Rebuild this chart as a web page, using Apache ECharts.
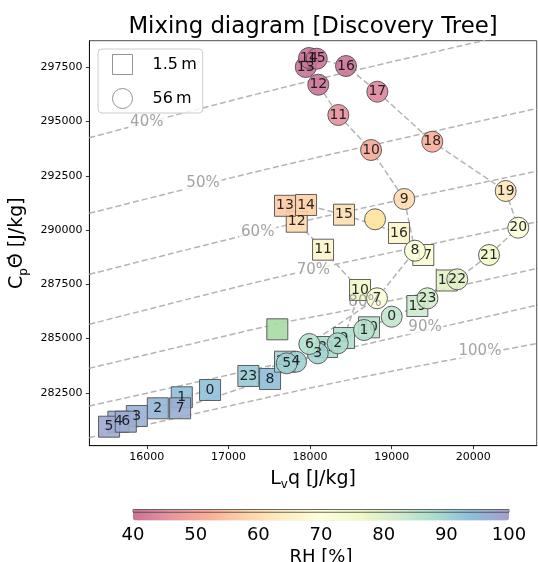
<!DOCTYPE html>
<html><head><meta charset="utf-8">
<script src="https://cdn.jsdelivr.net/npm/echarts@6/dist/echarts.min.js"></script>
<style>html,body{margin:0;padding:0;background:#fff}#c{width:538px;height:562px}</style>
</head><body><div id="c"></div>
<script>
// ---- data ----
const hours = ['0','1','2','3','4','5','6','7','8','9','10','11','12','13','14','15','16','17','18','19','20','21','22','23'];
// 1.5 m (squares): Lv*q [J/kg], Cp*Theta [J/kg], RH [%]
const sqX = [16775,16429,16135,15878,15652,15538,15743,16408,17510,18416,18612,18159,17837,17693,17951,18416,19089,19387,19674,19314,18722,18208,17693,17244];
const sqY = [282630,282294,281787,281432,281169,280939,281169,281787,283137,285026,287238,289095,290385,291118,291155,290708,289864,288851,287676,286500,285519,284611,283934,283275];
const sqRH = [93.5,93.8,95.5,96.5,97,97.9,97.5,97.1,94.2,87.1,76.4,66.4,59.8,56.7,57.4,60.3,66.4,71.9,78.7,83,85.8,88.3,89.8,91.7];
// 56 m (circles)
const ciX = [19000,18661,18339,18094,17828,17714,17991,18820,19285,19154,18747,18346,18101,17947,17987,18082,18440,18824,19497,20396,20550,20192,19803,19438];
const ciY = [286008,285395,284782,284321,283934,283860,284750,286856,289049,291431,293689,295302,296698,297514,297929,297896,297560,296376,294072,291800,290109,288851,287731,286856];
const ciRH = [84.3,86,88,89.6,90.6,90.4,86.6,71,70.5,60,50.7,45.2,39,37,36,36,39,43.3,51.6,62.6,70.4,74.9,78.6,81.5];
// unlabeled markers: x, y, colour as seen
const sqExtraX = [17599], sqExtraY = [285427], sqExtraColor = '#a9dba3';
const ciExtraX = [18796], ciExtraY = [290496], ciExtraColor = '#fee49c';
// RH isolines
const isoLabels = ['40%','50%','60%','70%','80%','90%','100%'];
const isoLabelX = [16000,16689,17359,18040,18673,19408,20081];
const isoLabelY = [294993,292155,289924,288160,286699,285547,284441];
const isoX = [[15297,17632,20142],[15297,17632,20791],[15297,17632,19102,20791],[15297,17632,20791],[15297,17632,18367,20791],[15297,18367,20791],[15297,18367,20791]];
const isoY = [[294256,296532,298744],[290772,292952,295611],[287961,290155,291385,292722],[285657,287851,290385],[283630,285704,286238,288238],[281893,284473,286547],[280432,283013,284782]];
// ticks
const xTicks = [16000,17000,18000,19000,20000];
const yTicks = [282500,285000,287500,290000,292500,295000,297500];
// Spectral colormap as it appears (semi-transparent on white), RH 40 -> 100
const rhColors = ['#ca7397','#e8959e','#f9af98','#fed2a8','#feeebf','#ffffdc','#f1f9c6','#d1eccd','#abddce','#8ebedb','#a69ecc'];

const FONT = 'DejaVu Sans';
const zip = (a, b) => a.map((v, i) => [v, b[i]]);
const sqName = '1.5\u2009m', ciName = '56\u2009m';
const dash = {color:'#b4b4b4', width:1.5, type:[6,3]};

const series = [];
isoX.forEach((xs, i) => {
  series.push({type:'line', data: zip(xs, isoY[i]), symbol:'none', smooth:0.3, silent:true, z:1, lineStyle:dash});
});
const isoLabelData = isoLabelX.map((x,i)=>[x, isoLabelY[i], isoLabels[i]]);
// white gap in the isolines under each label
series.push({type:'scatter', silent:true, z:2, symbolSize:0, data: isoLabelData,
  label:{show:true, position:'inside', formatter:p=>p.value[2], fontFamily:FONT, fontSize:15, color:'rgba(0,0,0,0)', backgroundColor:'#fff', padding:[0,2]}});
series.push({type:'line', data: zip(sqX, sqY), symbol:'none', silent:true, z:3, lineStyle:dash});
series.push({type:'line', data: zip(ciX, ciY), symbol:'none', silent:true, z:3, lineStyle:dash});
const mkStyle = {borderColor:'#505050', borderWidth:1, opacity:0.9};
const lbl = {show:true, position:'inside', formatter:p=>p.value[3], fontFamily:FONT, fontSize:14, color:'#111'};
const scatterStart = series.length;
series.push({type:'scatter', name:sqName, symbol:'rect', symbolSize:21, z:4, itemStyle:mkStyle, label:lbl,
  data: sqX.map((x,i)=>[x, sqY[i], sqRH[i], hours[i]])});
series.push({type:'scatter', name:ciName, symbol:'circle', symbolSize:21, z:5, itemStyle:mkStyle, label:lbl,
  data: ciX.map((x,i)=>[x, ciY[i], ciRH[i], hours[i]])});
series.push({type:'scatter', name:sqName, symbol:'rect', symbolSize:21, z:4,
  itemStyle:Object.assign({}, mkStyle, {color:sqExtraColor}), data: zip(sqExtraX, sqExtraY)});
series.push({type:'scatter', name:ciName, symbol:'circle', symbolSize:21, z:5,
  itemStyle:Object.assign({}, mkStyle, {color:ciExtraColor}), data: zip(ciExtraX, ciExtraY)});
// visible isoline labels on top
series.push({type:'scatter', silent:true, z:6, symbolSize:0, data: isoLabelData,
  label:{show:true, position:'inside', formatter:p=>p.value[2], fontFamily:FONT, fontSize:15, color:'#8c8c8c'}});

const axisCommon = {
  axisLine:{show:true, onZero:false, lineStyle:{color:'#000', width:0.8}},
  splitLine:{show:false}
};
const nameRich = {n:{fontFamily:FONT, fontSize:19, color:'#000', lineHeight:24}, s:{fontFamily:FONT, fontSize:12, color:'#000', verticalAlign:'bottom', lineHeight:14}};

const option = {
  animation:false,
  backgroundColor:'#fff',
  title:{text:'Mixing diagram [Discovery Tree]', left:308, top:11, textAlign:'center',
    textStyle:{fontFamily:FONT, fontSize:22.8, fontWeight:'normal', color:'#000'}},
  legend:{left:98, top:49, orient:'vertical', itemWidth:20, itemHeight:20, itemGap:13,
    padding:[5,6,4,14], borderColor:'#cccccc', borderWidth:1, borderRadius:4, backgroundColor:'rgba(255,255,255,0.8)',
    textStyle:{fontFamily:FONT, fontSize:16, color:'#000', padding:[0,0,0,15]},
    data:[{name:sqName, icon:'rect', itemStyle:{color:'#fff', borderColor:'#888', borderWidth:1}},
          {name:ciName, icon:'circle', itemStyle:{color:'#fff', borderColor:'#888', borderWidth:1}}]},
  grid:[
    {left:89.3, right:1.3, top:40.7, bottom:116.3, show:true, borderColor:'#222', borderWidth:0.8},
    {left:133, width:376, top:509.5, height:11, show:true, borderColor:'#444', borderWidth:0.8, z:6}
  ],
  xAxis:[
    Object.assign({type:'value', gridIndex:0, min:15297, max:20776,
      name:'{n|L}{s|v}{n|q [J/kg]}', nameLocation:'middle', nameGap:21,
      nameTextStyle:{rich:nameRich},
      axisTick:{show:true, length:3.5, customValues:xTicks, lineStyle:{color:'#000', width:0.8}},
      axisLabel:{customValues:xTicks, formatter:v=>String(v), fontFamily:FONT, fontSize:11, color:'#000', margin:6}},
      axisCommon),
    {type:'value', gridIndex:1, min:40, max:100, interval:10,
      name:'RH [%]', nameLocation:'middle', nameGap:36,
      nameTextStyle:{fontFamily:FONT, fontSize:18, color:'#000'},
      axisLine:{show:false}, splitLine:{show:false},
      axisTick:{show:false},
      axisLabel:{fontFamily:FONT, fontSize:18, color:'#000', margin:14}}
  ],
  yAxis:[
    Object.assign({type:'value', gridIndex:0, min:280063, max:298726,
      name:'{n|C}{s|p}{n|\u0398\u0307 [J/kg]}', nameLocation:'middle', nameGap:51,
      nameTextStyle:{rich:nameRich},
      axisTick:{show:true, length:3.5, customValues:yTicks, lineStyle:{color:'#000', width:0.8}},
      axisLabel:{customValues:yTicks, formatter:v=>String(v), fontFamily:FONT, fontSize:11, color:'#000', margin:7}},
      axisCommon),
    {type:'value', gridIndex:1, min:0, max:1, show:false}
  ],
  visualMap:{type:'continuous', min:40, max:100, orient:'horizontal', left:133, top:509.5,
    itemWidth:11, itemHeight:376, padding:0, calculable:false, text:null, showLabel:false,
    seriesIndex:[scatterStart, scatterStart+1], dimension:2,
    inRange:{color:rhColors}},
  series: series
};
const chart = echarts.init(document.getElementById('c'));
chart.setOption(option);
</script></body></html>
